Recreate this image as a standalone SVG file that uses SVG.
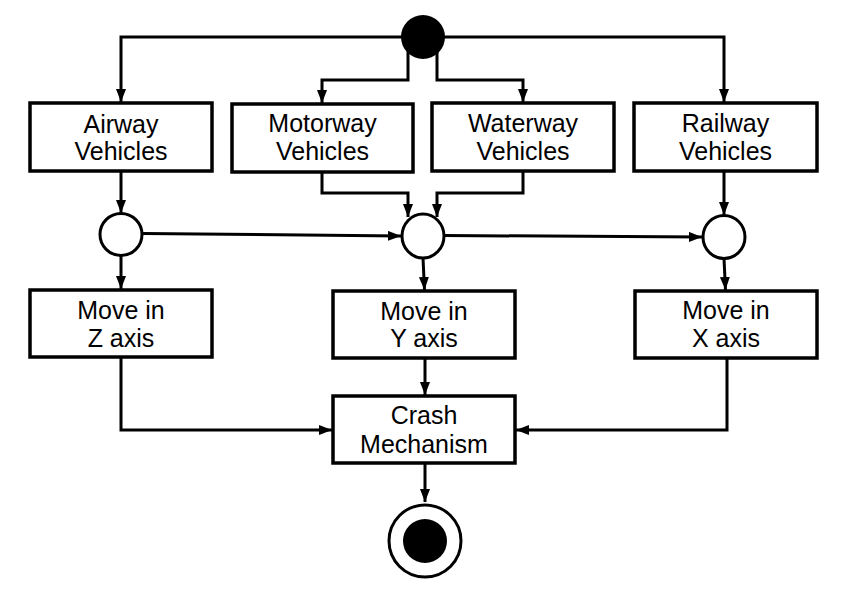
<svg xmlns="http://www.w3.org/2000/svg" width="845" height="596" viewBox="0 0 845 596">
<style>
.box{fill:#fff;stroke:#000;stroke-width:3.5}
.lbl{font-family:"Liberation Sans",Arial,sans-serif;font-size:25px;fill:#000;text-anchor:middle}
.conn{fill:none;stroke:#000;stroke-width:3;marker-end:url(#arr)}
.junc{fill:#fff;stroke:#000;stroke-width:3}
</style>
<defs>
<marker id="arr" markerUnits="userSpaceOnUse" markerWidth="13" markerHeight="10" refX="13" refY="5" orient="auto">
<path d="M0,0 L13,5 L0,10 z" fill="#000"/>
</marker>
</defs>
<rect width="845" height="596" fill="#fff"/>
<g id="connectors">
<path class="conn" d="M423,37 H121 V102"/>
<path class="conn" d="M423,37 H724 V102"/>
<path class="conn" d="M408,50 V80 H322 V103"/>
<path class="conn" d="M437,50 V80 H523 V102"/>
<path class="conn" d="M121,171 V213"/>
<path class="conn" d="M322,172 V193 H408 V217"/>
<path class="conn" d="M523,171 V193 H437 V217"/>
<path class="conn" d="M724,171 V215"/>
<path class="conn" d="M143,233.5 L401,236"/>
<path class="conn" d="M444,235.5 L702,237"/>
<path class="conn" d="M121,256 V289"/>
<path class="conn" d="M423,258 L424.5,290"/>
<path class="conn" d="M724,258.5 L725.5,290"/>
<path class="conn" d="M121,357 V430 H332"/>
<path class="conn" d="M425,358 V395"/>
<path class="conn" d="M727,358 V430 H516"/>
<path class="conn" d="M425,463 V502"/>
</g>
<g id="start"><circle cx="423" cy="37" r="22" fill="#000"/></g>
<g id="airway"><rect class="box" x="30" y="103" width="182" height="68"/><text class="lbl" x="121" y="132.5">Airway</text><text class="lbl" x="121" y="159.5">Vehicles</text></g>
<g id="motorway"><rect class="box" x="232" y="104" width="181" height="68"/><text class="lbl" x="322.5" y="132">Motorway</text><text class="lbl" x="322.5" y="160">Vehicles</text></g>
<g id="waterway"><rect class="box" x="432" y="103" width="182" height="68"/><text class="lbl" x="523" y="132">Waterway</text><text class="lbl" x="523" y="159.5">Vehicles</text></g>
<g id="railway"><rect class="box" x="634" y="103" width="183" height="68"/><text class="lbl" x="725.5" y="132">Railway</text><text class="lbl" x="725.5" y="159.5">Vehicles</text></g>
<g id="junction-left"><ellipse class="junc" cx="121" cy="234.5" rx="21" ry="21"/></g>
<g id="junction-mid"><ellipse class="junc" cx="423" cy="236" rx="21" ry="22"/></g>
<g id="junction-right"><ellipse class="junc" cx="724" cy="237" rx="21" ry="21.5"/></g>
<g id="move-z"><rect class="box" x="30" y="290" width="182" height="67"/><text class="lbl" x="121" y="318.5">Move in</text><text class="lbl" x="121" y="346.5">Z axis</text></g>
<g id="move-y"><rect class="box" x="333" y="291" width="182" height="67"/><text class="lbl" x="424" y="319.5">Move in</text><text class="lbl" x="424" y="347">Y axis</text></g>
<g id="move-x"><rect class="box" x="635" y="291" width="182" height="67"/><text class="lbl" x="726" y="318.5">Move in</text><text class="lbl" x="726" y="346.5">X axis</text></g>
<g id="crash"><rect class="box" x="333" y="396" width="182" height="67"/><text class="lbl" x="424" y="424">Crash</text><text class="lbl" x="424" y="453">Mechanism</text></g>
<g id="end"><circle cx="425" cy="541" r="36" fill="#fff" stroke="#000" stroke-width="3"/><circle cx="425" cy="541" r="22" fill="#000"/></g>
</svg>
